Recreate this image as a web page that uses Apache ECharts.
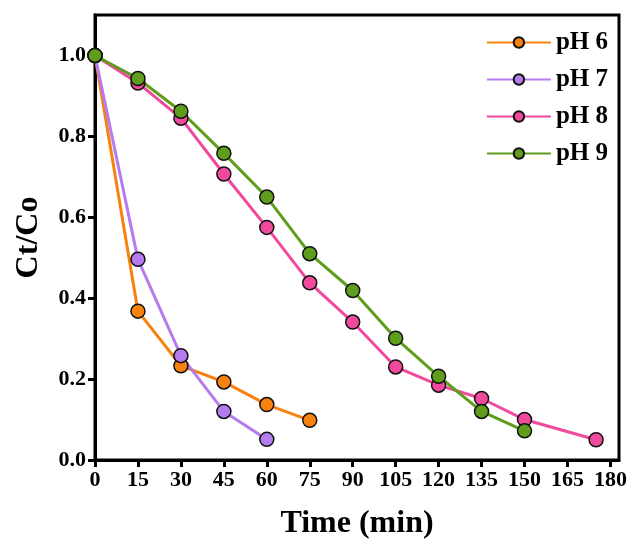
<!DOCTYPE html>
<html>
<head>
<meta charset="utf-8">
<script src="https://cdn.jsdelivr.net/npm/echarts@6/dist/echarts.min.js"></script>
<style>
  html, body { margin: 0; padding: 0; background: #fff; }
  #chart { width: 633px; height: 545px; }
</style>
</head>
<body>
<div id="chart"></div>
<script>
// time points (min) and Ct/Co readings per pH
var xTicks = [0, 15, 30, 45, 60, 75, 90, 105, 120, 135, 150, 165, 180];
var yTicks = [0, 0.2, 0.4, 0.6, 0.8, 1.0];

var timePH6 = [0, 15, 30, 45, 60, 75];
var valPH6 = [1.0, 0.368, 0.233, 0.193, 0.137, 0.098];

var timePH7 = [0, 15, 30, 45, 60];
var valPH7 = [1.0, 0.496, 0.258, 0.12, 0.051];

var timePH8 = [0, 15, 30, 45, 60, 75, 90, 105, 120, 135, 150, 175];
var valPH8 = [1.0, 0.932, 0.845, 0.707, 0.575, 0.438, 0.341, 0.23, 0.185, 0.152, 0.10, 0.05];

var timePH9 = [0, 15, 30, 45, 60, 75, 90, 105, 120, 135, 150];
var valPH9 = [1.0, 0.943, 0.862, 0.758, 0.65, 0.51, 0.419, 0.301, 0.207, 0.12, 0.072];

var seriesInfo = [
  { name: 'pH 6', x: timePH6, y: valPH6, color: '#f7820f' },
  { name: 'pH 7', x: timePH7, y: valPH7, color: '#b57cf0' },
  { name: 'pH 8', x: timePH8, y: valPH8, color: '#f04a9e' },
  { name: 'pH 9', x: timePH9, y: valPH9, color: '#5f9e1c' }
];

var font = 'Liberation Serif';

var chart = echarts.init(document.getElementById('chart'));
chart.setOption({
  animation: false,
  backgroundColor: '#fff',
  grid: {
    left: 95, right: 14, top: 15, bottom: 80,
    show: true, borderColor: '#000', borderWidth: 3
  },
  legend: {
    orient: 'vertical',
    right: 20, top: 25,
    itemWidth: 64, itemHeight: 13, itemGap: 12,
    textStyle: { fontFamily: font, fontWeight: 'bold', fontSize: 25, color: '#000', padding: [0, 0, 0, 0] },
    data: seriesInfo.map(function (s) { return s.name; })
  },
  xAxis: {
    type: 'value', min: 0, max: 183,
    name: 'Time (min)', nameLocation: 'middle', nameGap: 48,
    nameTextStyle: { fontFamily: font, fontWeight: 'bold', fontSize: 32, color: '#000' },
    axisLine: { lineStyle: { color: '#000', width: 3 } },
    axisTick: { length: 7, lineStyle: { width: 3, color: '#000' }, customValues: xTicks },
    axisLabel: { fontFamily: font, fontWeight: 'bold', fontSize: 22, color: '#000', margin: 9, customValues: xTicks },
    splitLine: { show: false }
  },
  yAxis: {
    type: 'value', min: 0, max: 1.1,
    name: 'Ct/Co', nameLocation: 'middle', nameGap: 50,
    nameTextStyle: { fontFamily: font, fontWeight: 'bold', fontSize: 32, color: '#000' },
    axisLine: { lineStyle: { color: '#000', width: 3 } },
    axisTick: { length: 7, lineStyle: { width: 3, color: '#000' }, customValues: yTicks },
    axisLabel: {
      fontFamily: font, fontWeight: 'bold', fontSize: 22, color: '#000', margin: 9,
      customValues: yTicks,
      formatter: function (v) { return v.toFixed(1); }
    },
    splitLine: { show: false }
  },
  series: seriesInfo.map(function (s) {
    return {
      name: s.name,
      type: 'line',
      data: s.x.map(function (t, i) { return [t, s.y[i]]; }),
      symbol: 'circle',
      symbolSize: 14,
      color: s.color,
      lineStyle: { color: s.color, width: 3 },
      itemStyle: { color: s.color, borderColor: '#111', borderWidth: 1.5 }
    };
  })
});
</script>
</body>
</html>
